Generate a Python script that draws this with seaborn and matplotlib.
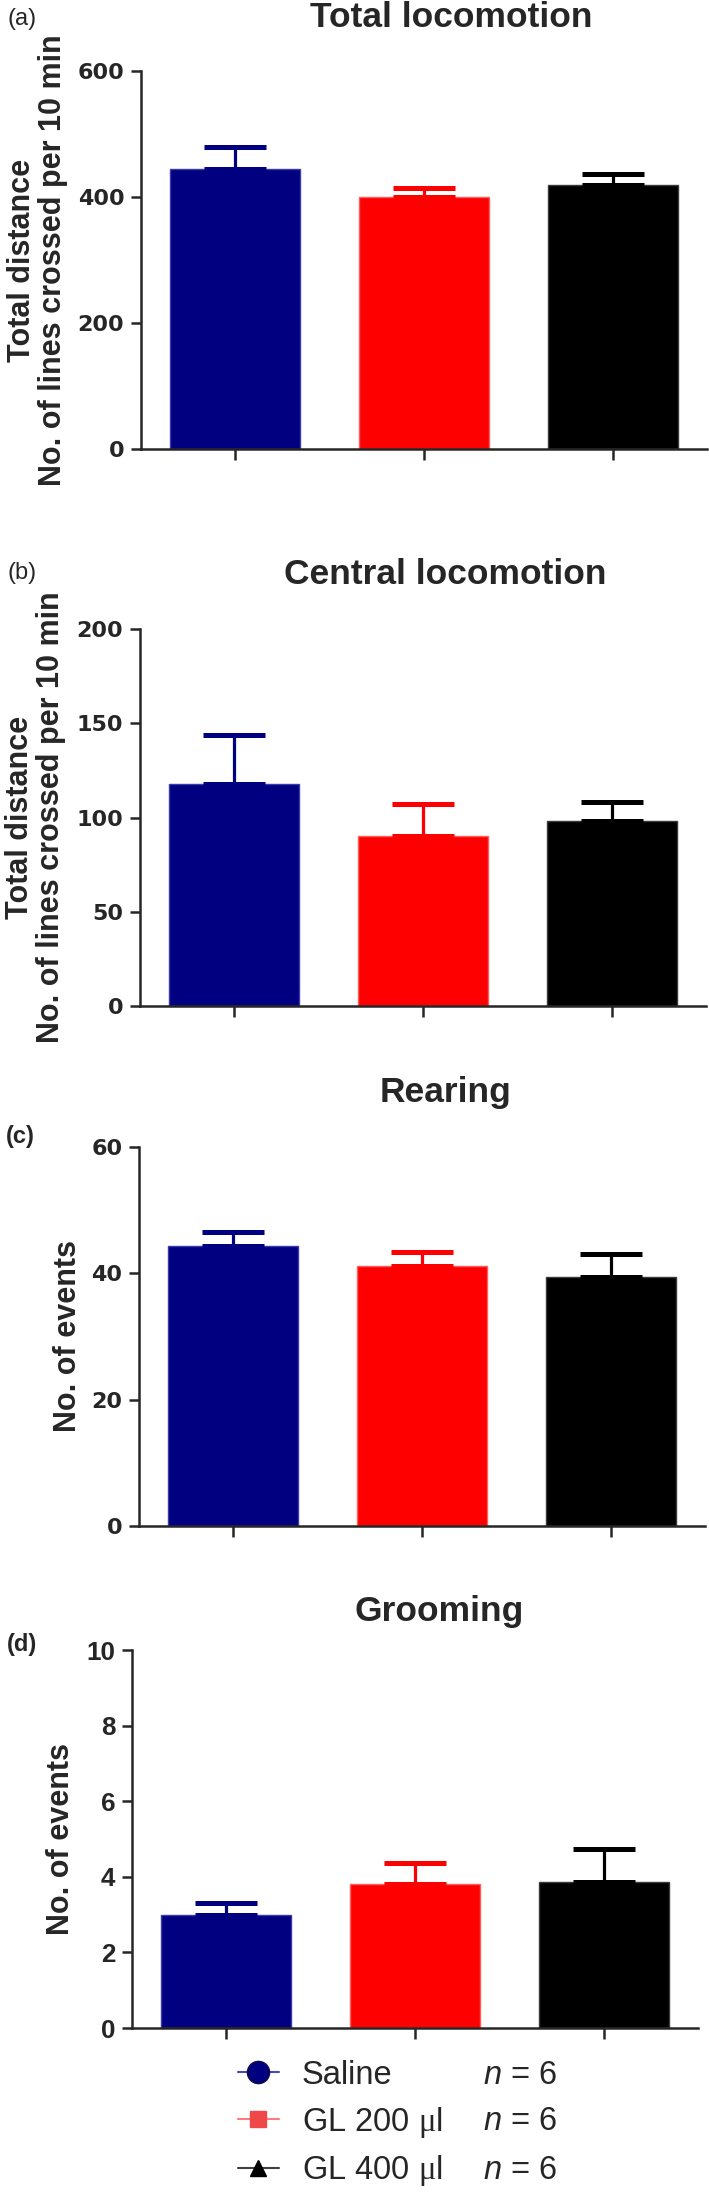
import numpy as np
import pandas as pd
import seaborn as sns
import matplotlib.pyplot as plt
from matplotlib.lines import Line2D

sns.set_style('ticks')
plt.rcParams['font.family'] = ['Liberation Sans', 'DejaVu Sans']
plt.rcParams['mathtext.fontset'] = 'custom'
plt.rcParams['mathtext.it'] = 'Liberation Sans:italic'
plt.rcParams['mathtext.rm'] = 'Liberation Serif'

W, H = 709, 2196

GROUPS = ['Saline', 'GL 200 μl', 'GL 400 μl']
LEGEND_LABELS = ['Saline', r'GL 200 $\mathrm{\mu}$l', r'GL 400 $\mathrm{\mu}$l']
COLORS = ['#000080', '#ff0000', '#000000']
EDGES = ['#3a3aa8', '#ff5c5c', '#3a3a3a']
N_PER_GROUP = [6, 6, 6]

total_mean = [444, 400, 419]
total_sem = [35, 14, 17]
central_mean = [118, 90, 98]
central_sem = [26, 17, 10]
rearing_mean = [44.4, 41.1, 39.4]
rearing_sem = [2.2, 2.2, 3.6]
grooming_mean = [3.0, 3.82, 3.87]
grooming_sem = [0.3, 0.55, 0.87]

PANELS = [
    dict(tag='(a)', tag_bold=False, title='Total locomotion',
         ylabel='Total distance\nNo. of lines crossed per 10 min',
         mean=total_mean, sem=total_sem, yticks=[0, 200, 400, 600],
         box=(141, 707, 71, 449), title_xy=(451, 27), tag_xy=(22, 19),
         label_x=68, tick_font=('DejaVu Sans', 16)),
    dict(tag='(b)', tag_bold=False, title='Central locomotion',
         ylabel='Total distance\nNo. of lines crossed per 10 min',
         mean=central_mean, sem=central_sem, yticks=[0, 50, 100, 150, 200],
         box=(140, 706, 629, 1006), title_xy=(445, 584), tag_xy=(22, 573),
         label_x=66, tick_font=('DejaVu Sans', 16)),
    dict(tag='(c)', tag_bold=True, title='Rearing',
         ylabel='No. of events',
         mean=rearing_mean, sem=rearing_sem, yticks=[0, 20, 40, 60],
         box=(139, 705, 1147, 1526), title_xy=(446, 1102), tag_xy=(20, 1137),
         label_x=83, tick_font=('DejaVu Sans', 16)),
    dict(tag='(d)', tag_bold=True, title='Grooming',
         ylabel='No. of events',
         mean=grooming_mean, sem=grooming_sem, yticks=[0, 2, 4, 6, 8, 10],
         box=(132, 698, 1650, 2028), title_xy=(439, 1621), tag_xy=(22, 1645),
         label_x=76, tick_font=('Liberation Sans', 18.7)),
]

fig = plt.figure(figsize=(W / 100, H / 100), dpi=100)

for p in PANELS:
    left, right, top, bottom = p['box']
    ax = fig.add_axes([left / W, 1 - bottom / H, (right - left) / W, (bottom - top) / H])
    df = pd.DataFrame({'group': GROUPS, 'value': p['mean']})
    sns.barplot(data=df, x='group', y='value', hue='group', palette=COLORS,
                saturation=1, width=0.69, legend=False, ax=ax, linewidth=1)
    for patch, ec in zip(ax.patches, EDGES):
        patch.set_edgecolor(ec)
    for i in range(len(GROUPS)):
        ax.errorbar(i, p['mean'][i], yerr=[[0], [p['sem'][i]]], fmt='none',
                    ecolor=COLORS[i], elinewidth=2.3, capsize=22.3, capthick=3.6,
                    zorder=3)
    ax.set_xlim(-0.5, 2.5)
    ax.set_ylim(0, p['yticks'][-1])
    ax.set_yticks(p['yticks'])
    ax.set_xticks(range(len(GROUPS)))
    ax.set_xticklabels([])
    ax.set_xlabel('')
    ax.set_ylabel(p['ylabel'], fontsize=22, fontweight='bold', linespacing=1.05)
    ax.yaxis.set_label_coords((p['label_x'] - left) / (right - left), 0.5)
    sns.despine(ax=ax)
    for s in ['left', 'bottom']:
        ax.spines[s].set_linewidth(1.8)
    ax.tick_params(axis='y', direction='out', length=7, width=1.8, pad=5)
    ax.tick_params(axis='x', direction='out', length=8, width=1.8)
    fam, size = p['tick_font']
    for lab in ax.get_yticklabels():
        lab.set_fontweight('bold')
        lab.set_family([fam, 'DejaVu Sans'])
        lab.set_fontsize(size)
    fig.text(p['title_xy'][0] / W, 1 - p['title_xy'][1] / H, p['title'],
             ha='center', va='baseline', fontsize=25.5, fontweight='bold')
    fig.text(p['tag_xy'][0] / W, 1 - p['tag_xy'][1] / H, p['tag'],
             ha='center', va='center', fontsize=17,
             fontweight='bold' if p['tag_bold'] else 'normal')

handles = [
    Line2D([], [], color='#4848b8', lw=1.5, marker='o', markersize=16,
           markerfacecolor='#000080', markeredgecolor='#101040'),
    Line2D([], [], color='#ff7a7a', lw=1.5, marker='s', markersize=11.5,
           markerfacecolor='#f04848', markeredgecolor='#f04848'),
    Line2D([], [], color='#404040', lw=1.5, marker='^', markersize=12,
           markerfacecolor='#000000', markeredgecolor='#000000'),
]
leg = fig.legend(handles, LEGEND_LABELS, loc='center left',
                 bbox_to_anchor=(238 / W, 1 - 2124 / H), frameon=False,
                 borderpad=0, borderaxespad=0, handlelength=1.25,
                 handletextpad=0.7, labelspacing=0.42, fontsize=23.5)

fig.canvas.draw()
inv = fig.transFigure.inverted()
for t, n in zip(leg.get_texts(), N_PER_GROUP):
    bb = t.get_window_extent()
    yc = inv.transform(((bb.x0 + bb.x1) / 2, (bb.y0 + bb.y1) / 2))[1]
    fig.text(483 / W, yc, r'$n$ = %d' % n, ha='left', va='center', fontsize=23.5)

fig.savefig('out.png', dpi=100)
